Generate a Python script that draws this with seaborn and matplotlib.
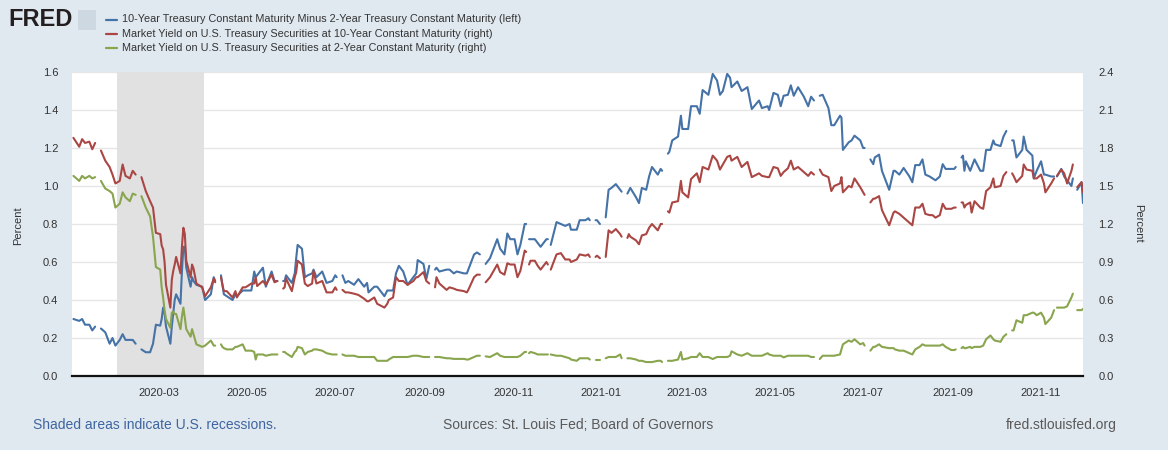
import numpy as np
import pandas as pd
import matplotlib
matplotlib.use("Agg")
import matplotlib.pyplot as plt
import matplotlib.dates as mdates
from matplotlib.lines import Line2D
from matplotlib.patches import Rectangle
from matplotlib.ticker import FormatStrFormatter
import seaborn as sns

nan = np.nan

# ---------- data (nan = holiday gap) ----------
dates = [
    # 2020
    "2020-01-02", "2020-01-06", "2020-01-08", "2020-01-10", "2020-01-13", "2020-01-15", "2020-01-17", "2020-01-20", "2020-01-21", "2020-01-24", "2020-01-27", "2020-01-29", "2020-01-31",
    "2020-02-03", "2020-02-05", "2020-02-07", "2020-02-10", "2020-02-12", "2020-02-14", "2020-02-17", "2020-02-18", "2020-02-21", "2020-02-24", "2020-02-26", "2020-02-28",
    "2020-03-02", "2020-03-03", "2020-03-04", "2020-03-05", "2020-03-06", "2020-03-09", "2020-03-10", "2020-03-11", "2020-03-12", "2020-03-13", "2020-03-16", "2020-03-17", "2020-03-18", "2020-03-19", "2020-03-20", "2020-03-23", "2020-03-24", "2020-03-25", "2020-03-27", "2020-03-31",
    "2020-04-02", "2020-04-06", "2020-04-08", "2020-04-09", "2020-04-10", "2020-04-13", "2020-04-14", "2020-04-15", "2020-04-17", "2020-04-21", "2020-04-23", "2020-04-24", "2020-04-28", "2020-04-30",
    "2020-05-04", "2020-05-06", "2020-05-07", "2020-05-08", "2020-05-12", "2020-05-14", "2020-05-18", "2020-05-20", "2020-05-22", "2020-05-25", "2020-05-26", "2020-05-27", "2020-05-28",
    "2020-06-01", "2020-06-03", "2020-06-04", "2020-06-05", "2020-06-08", "2020-06-10", "2020-06-12", "2020-06-15", "2020-06-16", "2020-06-18", "2020-06-22", "2020-06-25", "2020-06-29",
    "2020-07-01", "2020-07-02", "2020-07-03", "2020-07-06", "2020-07-08", "2020-07-10", "2020-07-14", "2020-07-17", "2020-07-21", "2020-07-23", "2020-07-24", "2020-07-28", "2020-07-30",
    "2020-08-04", "2020-08-06", "2020-08-07", "2020-08-10", "2020-08-12", "2020-08-14", "2020-08-17", "2020-08-20", "2020-08-24", "2020-08-26", "2020-08-27", "2020-08-31",
    "2020-09-02", "2020-09-04", "2020-09-07", "2020-09-08", "2020-09-09", "2020-09-11", "2020-09-16", "2020-09-18", "2020-09-21", "2020-09-23", "2020-09-28", "2020-09-30",
    "2020-10-01", "2020-10-05", "2020-10-07", "2020-10-09", "2020-10-12", "2020-10-13", "2020-10-16", "2020-10-21", "2020-10-23", "2020-10-26", "2020-10-28", "2020-10-30",
    "2020-11-02", "2020-11-04", "2020-11-06", "2020-11-09", "2020-11-10", "2020-11-11", "2020-11-12", "2020-11-13", "2020-11-16", "2020-11-18", "2020-11-20", "2020-11-24", "2020-11-25", "2020-11-26", "2020-11-27",
    "2020-12-01", "2020-12-04", "2020-12-07", "2020-12-10", "2020-12-11", "2020-12-15", "2020-12-17", "2020-12-21", "2020-12-23", "2020-12-24", "2020-12-25", "2020-12-28", "2020-12-29", "2020-12-31",
    # 2021
    "2021-01-01", "2021-01-04", "2021-01-06", "2021-01-08", "2021-01-11", "2021-01-14", "2021-01-15", "2021-01-18", "2021-01-19", "2021-01-20", "2021-01-21", "2021-01-25", "2021-01-27", "2021-01-29",
    "2021-02-01", "2021-02-03", "2021-02-05", "2021-02-09", "2021-02-11", "2021-02-12", "2021-02-15", "2021-02-16", "2021-02-17", "2021-02-19", "2021-02-23", "2021-02-25", "2021-02-26",
    "2021-03-02", "2021-03-04", "2021-03-08", "2021-03-10", "2021-03-12", "2021-03-16", "2021-03-19", "2021-03-22", "2021-03-24", "2021-03-26", "2021-03-29", "2021-03-31",
    "2021-04-01", "2021-04-05", "2021-04-08", "2021-04-12", "2021-04-15", "2021-04-20", "2021-04-22", "2021-04-26", "2021-04-27", "2021-04-30",
    "2021-05-03", "2021-05-05", "2021-05-07", "2021-05-10", "2021-05-12", "2021-05-14", "2021-05-17", "2021-05-21", "2021-05-24", "2021-05-26", "2021-05-28", "2021-05-31",
    "2021-06-01", "2021-06-03", "2021-06-07", "2021-06-09", "2021-06-11", "2021-06-15", "2021-06-16", "2021-06-17", "2021-06-21", "2021-06-23", "2021-06-25", "2021-06-29",
    "2021-07-01", "2021-07-02", "2021-07-05", "2021-07-06", "2021-07-08", "2021-07-09", "2021-07-12", "2021-07-14", "2021-07-19", "2021-07-22", "2021-07-23", "2021-07-26", "2021-07-29",
    "2021-08-02", "2021-08-04", "2021-08-06", "2021-08-09", "2021-08-11", "2021-08-13", "2021-08-16", "2021-08-18", "2021-08-20", "2021-08-23", "2021-08-25", "2021-08-27", "2021-08-31",
    "2021-09-02", "2021-09-03", "2021-09-06", "2021-09-07", "2021-09-08", "2021-09-09", "2021-09-10", "2021-09-13", "2021-09-14", "2021-09-16", "2021-09-20", "2021-09-22", "2021-09-24", "2021-09-27", "2021-09-29", "2021-09-30",
    "2021-10-04", "2021-10-06", "2021-10-08", "2021-10-11", "2021-10-12", "2021-10-13", "2021-10-15", "2021-10-19", "2021-10-20", "2021-10-22", "2021-10-26", "2021-10-27", "2021-10-29",
    "2021-11-01", "2021-11-03", "2021-11-04", "2021-11-08", "2021-11-10", "2021-11-11", "2021-11-12", "2021-11-15", "2021-11-17", "2021-11-19", "2021-11-22", "2021-11-23", "2021-11-25", "2021-11-26", "2021-11-29", "2021-11-30",
]

# 10-Year minus 2-Year (left axis)
spread = [
    0.30, 0.29, 0.30, 0.27, 0.27, 0.24, 0.26, nan, 0.25, 0.23, 0.17, 0.20, 0.16,
    0.19, 0.22, 0.19, 0.19, 0.19, 0.17, nan, 0.14, 0.125, 0.125, 0.17, 0.27,
    0.265, 0.30, 0.36, 0.33, 0.26, 0.17, 0.26, 0.33, 0.40, 0.43, 0.38, 0.55, 0.68, 0.68, 0.57, 0.47, 0.52, 0.50, 0.48, 0.47,
    0.40, 0.43, 0.52, 0.50, nan, 0.53, 0.48, 0.43, 0.42, 0.40, 0.43, 0.42, 0.45, 0.45,
    0.45, 0.55, 0.52, 0.53, 0.57, 0.47, 0.55, 0.50, 0.50, nan, 0.50, 0.50, 0.53,
    0.49, 0.54, 0.62, 0.69, 0.67, 0.52, 0.53, 0.54, 0.56, 0.52, 0.55, 0.49, 0.50,
    0.53, 0.52, nan, 0.53, 0.49, 0.50, 0.48, 0.51, 0.47, 0.49, 0.44, 0.47, 0.47,
    0.42, 0.45, 0.45, 0.45, 0.54, 0.58, 0.55, 0.48, 0.52, 0.54, 0.61, 0.59,
    0.51, 0.58, nan, 0.56, 0.57, 0.55, 0.56, 0.56, 0.54, 0.55, 0.54, 0.54,
    0.56, 0.64, 0.65, 0.64, nan, 0.59, 0.62, 0.72, 0.67, 0.64, 0.75, 0.72,
    0.72, 0.64, 0.69, 0.80, 0.80, nan, 0.72, 0.72, 0.72, 0.70, 0.68, 0.72, 0.72, nan, 0.69,
    0.81, 0.80, 0.79, 0.80, 0.77, 0.77, 0.82, 0.82, 0.83, 0.82, nan, 0.82, 0.82, 0.80,
    nan, 0.835, 0.98, 0.99, 1.01, 0.98, 0.97, nan, 0.96, 0.975, 0.99, 0.94, 0.91, 0.99,
    0.98, 1.05, 1.10, 1.06, 1.09, 1.08, nan, 1.17, 1.18, 1.24, 1.26, 1.37, 1.30,
    1.30, 1.42, 1.42, 1.38, 1.505, 1.48, 1.59, 1.555, 1.48, 1.50, 1.59, 1.57,
    1.52, 1.55, 1.50, 1.52, 1.405, 1.45, 1.41, 1.42, 1.40, 1.49,
    1.48, 1.42, 1.475, 1.48, 1.53, 1.475, 1.52, 1.47, 1.42, 1.47, 1.45, nan,
    1.475, 1.48, 1.41, 1.32, 1.32, 1.37, 1.36, 1.19, 1.23, 1.24, 1.265, 1.24,
    1.20, 1.20, nan, 1.14, 1.115, 1.15, 1.165, 1.08, 0.98, 1.08, 1.08, 1.06, 1.095,
    1.05, 1.02, 1.11, 1.11, 1.14, 1.06, 1.05, 1.04, 1.03, 1.05, 1.115, 1.09, 1.09,
    1.09, 1.10, nan, 1.15, 1.16, 1.08, 1.13, 1.08, 1.10, 1.14, 1.08, 1.08, 1.19, 1.19, 1.24, 1.22,
    1.21, 1.26, 1.29, nan, 1.24, 1.24, 1.15, 1.19, 1.26, 1.19, 1.16, 1.04, 1.08,
    1.13, 1.06, 1.06, 1.05, 1.05, nan, 1.05, 1.09, 1.05, 1.03, 1.00, 1.04, nan, 0.98, 1.02, 0.91,
]

# 10-Year yield (right axis)
yield_10y = [
    1.88, 1.81, 1.87, 1.84, 1.85, 1.79, 1.84, nan, 1.78, 1.70, 1.65, 1.59, 1.52,
    1.54, 1.67, 1.58, 1.56, 1.62, 1.59, nan, 1.57, 1.46, 1.38, 1.33, 1.13,
    1.12, 1.03, 1.00, 0.90, 0.72, 0.54, 0.76, 0.83, 0.88, 0.94, 0.81, 1.02, 1.17, 1.12, 0.91, 0.78, 0.88, 0.85, 0.73, 0.70,
    0.63, 0.70, 0.77, 0.74, nan, 0.78, 0.72, 0.67, 0.67, 0.62, 0.67, 0.62, 0.70, 0.70,
    0.73, 0.73, 0.78, 0.71, 0.75, 0.72, 0.80, 0.74, 0.75, nan, 0.69, 0.70, 0.77,
    0.67, 0.78, 0.82, 0.91, 0.88, 0.73, 0.71, 0.73, 0.83, 0.73, 0.75, 0.66, 0.66,
    0.70, 0.68, nan, 0.68, 0.66, 0.66, 0.65, 0.64, 0.61, 0.59, 0.59, 0.62, 0.57,
    0.54, 0.57, 0.60, 0.62, 0.78, 0.75, 0.75, 0.72, 0.75, 0.78, 0.78, 0.82,
    0.75, 0.73, nan, 0.70, 0.78, 0.73, 0.68, 0.70, 0.69, 0.68, 0.67, 0.66,
    0.68, 0.78, 0.80, 0.80, nan, 0.74, 0.78, 0.88, 0.82, 0.80, 0.89, 0.88,
    0.88, 0.78, 0.83, 0.99, 0.98, nan, 0.88, 0.91, 0.91, 0.87, 0.84, 0.90, 0.88, nan, 0.84,
    0.96, 0.97, 0.92, 0.92, 0.90, 0.92, 0.96, 0.95, 0.96, 0.94, nan, 0.94, 0.95, 0.93,
    nan, 0.94, 1.15, 1.13, 1.16, 1.12, 1.10, nan, 1.09, 1.12, 1.10, 1.07, 1.04, 1.11,
    1.12, 1.17, 1.20, 1.15, 1.20, 1.20, nan, 1.30, 1.29, 1.37, 1.38, 1.54, 1.45,
    1.41, 1.555, 1.60, 1.53, 1.65, 1.63, 1.74, 1.70, 1.63, 1.67, 1.73, 1.74,
    1.70, 1.73, 1.65, 1.69, 1.57, 1.60, 1.58, 1.57, 1.57, 1.65,
    1.64, 1.58, 1.61, 1.64, 1.70, 1.63, 1.65, 1.61, 1.58, 1.61, 1.59, nan,
    1.63, 1.59, 1.57, 1.46, 1.50, 1.52, 1.57, 1.45, 1.50, 1.49, 1.56, 1.49,
    1.45, 1.43, nan, 1.37, 1.40, 1.40, 1.42, 1.31, 1.19, 1.29, 1.30, 1.28, 1.25,
    1.21, 1.19, 1.33, 1.33, 1.36, 1.28, 1.27, 1.27, 1.25, 1.27, 1.36, 1.32, 1.32,
    1.33, 1.33, nan, 1.37, 1.37, 1.33, 1.35, 1.37, 1.29, 1.38, 1.33, 1.32, 1.46, 1.49, 1.56, 1.49,
    1.50, 1.58, 1.61, nan, 1.60, 1.58, 1.53, 1.58, 1.67, 1.63, 1.62, 1.56, 1.56,
    1.59, 1.52, 1.45, 1.52, 1.56, nan, 1.58, 1.63, 1.60, 1.52, 1.62, 1.67, nan, 1.49, 1.53, 1.45,
]

# 2-Year yield (right axis)
yield_2y = [
    1.58, 1.54, 1.58, 1.56, 1.58, 1.56, 1.57, nan, 1.54, 1.48, 1.46, 1.44, 1.33,
    1.36, 1.45, 1.41, 1.38, 1.44, 1.43, nan, 1.42, 1.33, 1.26, 1.10, 0.86,
    0.84, 0.70, 0.62, 0.52, 0.45, 0.38, 0.50, 0.51, 0.49, 0.49, 0.37, 0.47, 0.54, 0.46, 0.37, 0.31, 0.37, 0.33, 0.25, 0.23,
    0.24, 0.28, 0.24, 0.24, nan, 0.25, 0.23, 0.22, 0.21, 0.21, 0.23, 0.23, 0.25, 0.20,
    0.20, 0.19, 0.13, 0.17, 0.17, 0.16, 0.17, 0.17, 0.17, nan, 0.19, 0.19, 0.18,
    0.15, 0.19, 0.20, 0.23, 0.22, 0.17, 0.19, 0.20, 0.21, 0.21, 0.20, 0.18, 0.17,
    0.17, 0.17, nan, 0.17, 0.16, 0.16, 0.16, 0.15, 0.15, 0.15, 0.15, 0.15, 0.12,
    0.12, 0.12, 0.13, 0.15, 0.15, 0.15, 0.15, 0.15, 0.16, 0.16, 0.16, 0.15,
    0.15, 0.15, nan, 0.15, 0.15, 0.15, 0.14, 0.14, 0.135, 0.135, 0.135, 0.13,
    0.13, 0.15, 0.16, 0.16, nan, 0.155, 0.15, 0.18, 0.16, 0.15, 0.15, 0.15,
    0.15, 0.15, 0.16, 0.19, 0.19, nan, 0.18, 0.19, 0.18, 0.17, 0.17, 0.17, 0.17, nan, 0.17,
    0.16, 0.16, 0.15, 0.14, 0.13, 0.12, 0.14, 0.14, 0.14, 0.13, nan, 0.13, 0.13, 0.13,
    nan, 0.14, 0.15, 0.15, 0.15, 0.17, 0.14, nan, 0.14, 0.14, 0.14, 0.13, 0.12, 0.12,
    0.11, 0.11, 0.11, 0.12, 0.12, 0.11, nan, 0.12, 0.12, 0.12, 0.13, 0.19, 0.13,
    0.14, 0.15, 0.15, 0.18, 0.15, 0.15, 0.134, 0.15, 0.15, 0.15, 0.15, 0.16,
    0.195, 0.17, 0.16, 0.18, 0.16, 0.16, 0.16, 0.18, 0.17, 0.16,
    0.16, 0.16, 0.147, 0.16, 0.16, 0.16, 0.16, 0.16, 0.16, 0.15, 0.15, nan,
    0.134, 0.16, 0.16, 0.16, 0.16, 0.17, 0.21, 0.25, 0.28, 0.27, 0.29, 0.25,
    0.26, 0.24, nan, 0.20, 0.23, 0.23, 0.25, 0.23, 0.22, 0.22, 0.21, 0.20, 0.20,
    0.18, 0.17, 0.21, 0.23, 0.25, 0.24, 0.24, 0.24, 0.24, 0.24, 0.25, 0.23, 0.205,
    0.205, 0.21, nan, 0.22, 0.23, 0.22, 0.22, 0.23, 0.22, 0.23, 0.23, 0.24, 0.29, 0.32, 0.29, 0.28,
    0.27, 0.31, 0.33, nan, 0.36, 0.36, 0.44, 0.42, 0.48, 0.48, 0.50, 0.50, 0.48,
    0.50, 0.46, 0.41, 0.46, 0.52, nan, 0.54, 0.54, 0.54, 0.55, 0.62, 0.65, nan, 0.52, 0.52, 0.53,
]

recession = ("2020-02-01", "2020-04-01")
labels = [
    "10-Year Treasury Constant Maturity Minus 2-Year Treasury Constant Maturity (left)",
    "Market Yield on U.S. Treasury Securities at 10-Year Constant Maturity (right)",
    "Market Yield on U.S. Treasury Securities at 2-Year Constant Maturity (right)",
]
colors = ["#4572a7", "#aa4643", "#89a54e"]

assert len(dates) == len(spread) == len(yield_10y) == len(yield_2y)

# ---------- style ----------
sns.set_theme(style="white")
plt.rcParams["font.family"] = ["Liberation Sans", "DejaVu Sans"]
BG = "#e1e9f0"
TXT = "#333333"

df = pd.DataFrame({"date": pd.to_datetime(dates), "spread": spread,
                   "y10": yield_10y, "y2": yield_2y})


def segments(col):
    # a new segment after every gap, so the line breaks like FRED's
    d = df[["date", col]].copy()
    d["seg"] = d[col].isna().cumsum()
    return d.dropna()


W, H = 1168, 450
fig = plt.figure(figsize=(W / 100, H / 100), dpi=100, facecolor=BG)
ax = fig.add_axes([72 / W, 1 - 376 / H, (1083 - 72) / W, (376 - 72) / H])
ax.set_facecolor("white")
ax2 = ax.twinx()
ax2.patch.set_visible(False)

ax.axvspan(pd.Timestamp(recession[0]), pd.Timestamp(recession[1]),
           color="#e1e1e1", lw=0, zorder=1)

sns.lineplot(data=segments("spread"), x="date", y="spread", units="seg",
             estimator=None, color=colors[0], lw=1.5, ax=ax, legend=False)
sns.lineplot(data=segments("y10"), x="date", y="y10", units="seg",
             estimator=None, color=colors[1], lw=1.5, ax=ax2, legend=False)
sns.lineplot(data=segments("y2"), x="date", y="y2", units="seg",
             estimator=None, color=colors[2], lw=1.5, ax=ax2, legend=False)

# axes
ax.set_xlim(pd.Timestamp("2020-01-01"), pd.Timestamp("2021-11-30"))
ax.set_ylim(0, 1.6)
ax2.set_ylim(0, 2.4)
ax.set_yticks(np.arange(0, 1.61, 0.2))
ax2.set_yticks(np.arange(0, 2.41, 0.3))
ax.yaxis.set_major_formatter(FormatStrFormatter("%.1f"))
ax2.yaxis.set_major_formatter(FormatStrFormatter("%.1f"))
ax.set_xticks(pd.date_range("2020-03-01", "2021-11-01", freq="2MS"))
ax.xaxis.set_major_formatter(mdates.DateFormatter("%Y-%m"))
for a in (ax, ax2):
    a.set_xlabel("")
    a.set_ylabel("")
    for s in a.spines.values():
        s.set_visible(False)
ax.spines["bottom"].set_visible(True)
ax.spines["bottom"].set_color("#111111")
ax.spines["bottom"].set_linewidth(1.6)
ax.spines["bottom"].set_zorder(5)

ax.set_axisbelow(True)
ax.yaxis.grid(True, color="#e6e6e6", lw=1)
ax.xaxis.grid(False)
ax2.grid(False)

ax.tick_params(axis="x", length=7, width=1, color="#ccd6eb", pad=2,
               labelsize=8, labelcolor=TXT)
ax.tick_params(axis="y", length=0, pad=10, labelsize=8, labelcolor=TXT)
ax2.tick_params(axis="y", length=0, pad=11, labelsize=8, labelcolor=TXT)

fig.text(18 / W, 1 - 226 / H, "Percent", rotation=90, ha="center", va="center",
         fontsize=8, color=TXT)
fig.text(1138 / W, 1 - 223 / H, "Percent", rotation=270, ha="center", va="center",
         fontsize=8, color=TXT)

# header: FRED mark + legend
fig.text(8 / W, 1 - 20 / H, "FRED", fontsize=17, fontweight="bold",
         color="#231f20", ha="left", va="center")
fig.add_artist(Rectangle((78 / W, 1 - 30 / H), 18 / W, 20 / H,
                         transform=fig.transFigure, facecolor="#cdd8e0",
                         edgecolor="none"))
for i, (lab, c) in enumerate(zip(labels, colors)):
    yy = 1 - (19.5 + 14.2 * i) / H
    fig.add_artist(Line2D([106 / W, 117 / W], [yy, yy], color=c, lw=1.6,
                          transform=fig.transFigure))
    fig.text(122 / W, yy, lab, fontsize=7.8, color=TXT, ha="left", va="center")

# footer
fig.text(33 / W, 1 - 425 / H, "Shaded areas indicate U.S. recessions.",
         fontsize=10, color="#3e65a0", ha="left", va="center")
fig.text(578 / W, 1 - 425 / H, "Sources: St. Louis Fed; Board of Governors",
         fontsize=10, color="#595959", ha="center", va="center")
fig.text(1117 / W, 1 - 425 / H, "fred.stlouisfed.org",
         fontsize=10, color="#595959", ha="right", va="center")

fig.savefig("out.png", dpi=100, facecolor=BG)
